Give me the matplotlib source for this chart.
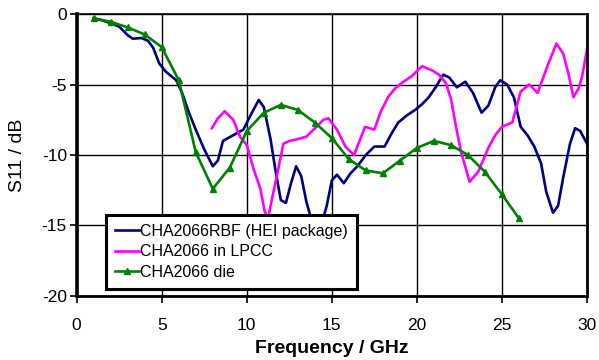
import matplotlib
matplotlib.use("Agg")
import matplotlib.pyplot as plt

plt.rcParams['font.family'] = ['Liberation Sans', 'DejaVu Sans']
plt.rcParams['axes.unicode_minus'] = False

# CHA2066RBF (HEI package)
hei_f = [1.0, 1.5, 2.0, 2.5, 3.0, 3.3, 3.8, 4.2, 4.5, 4.85, 5.25, 5.85, 6.2, 6.6, 7.0, 7.5,
         8.0, 8.3, 8.6, 9.2, 9.8, 10.3, 10.7, 11.0, 11.4, 11.7, 12.0, 12.3, 12.6, 12.9,
         13.2, 13.5, 13.8, 14.1, 14.4, 14.7, 15.0, 15.3, 15.7, 16.1, 16.5, 17.0, 17.5,
         18.1, 18.5, 18.9, 19.4, 19.9, 20.3, 20.7, 21.1, 21.55, 21.9, 22.35, 22.85, 23.3,
         23.8, 24.2, 24.6, 24.9, 25.3, 25.7, 26.1, 26.5, 26.9, 27.3, 27.6, 28.0, 28.3,
         28.6, 29.0, 29.3, 29.6, 30.0]
hei_s11 = [-0.3, -0.45, -0.65, -0.9, -1.5, -1.75, -1.7, -1.9, -2.4, -3.5, -4.1, -4.7, -5.6,
           -7.0, -8.2, -9.6, -10.8, -10.4, -9.0, -8.6, -8.2, -7.0, -6.1, -6.6, -8.9, -11.2,
           -13.2, -13.4, -12.0, -10.8, -11.5, -13.3, -14.6, -15.3, -14.9, -13.6, -11.8,
           -11.4, -12.0, -11.3, -10.8, -10.0, -9.4, -9.4, -8.5, -7.7, -7.2, -6.8, -6.4,
           -5.9, -5.2, -4.3, -4.5, -5.2, -4.8, -5.6, -7.0, -6.5, -5.2, -4.7, -5.0, -5.9,
           -8.0, -8.6, -9.4, -10.6, -12.6, -14.1, -13.6, -11.6, -9.2, -8.1, -8.3, -9.2]

# CHA2066 in LPCC
lpcc_f = [7.95, 8.3, 8.7, 9.2, 9.6, 10.0, 10.4, 10.8, 11.05, 11.25, 11.5, 11.8, 12.15, 12.5,
          12.9, 13.5, 14.1, 14.5, 14.8, 15.3, 15.8, 16.3, 16.5, 16.95, 17.5, 17.85, 18.3,
          18.7, 19.1, 19.7, 20.3, 20.9, 21.3, 21.7, 22.0, 22.3, 22.6, 23.1, 23.6, 24.2,
          24.6, 25.0, 25.6, 26.1, 26.6, 27.1, 27.7, 28.2, 28.6, 28.9, 29.2, 29.5, 29.7, 30.0]
lpcc_s11 = [-8.1, -7.4, -6.9, -7.5, -8.7, -9.3, -11.0, -12.4, -14.0, -14.5, -13.0, -11.3,
            -9.2, -9.0, -8.9, -8.7, -8.0, -7.5, -7.4, -8.2, -9.4, -10.0, -9.4, -8.0, -8.2,
            -7.0, -5.9, -5.3, -4.9, -4.4, -3.7, -4.0, -4.3, -4.9, -6.0, -8.0, -9.8, -11.9,
            -11.2, -9.5, -8.6, -8.0, -7.7, -5.5, -5.0, -5.6, -3.6, -2.1, -2.8, -4.2, -5.9,
            -5.3, -4.5, -2.5]

# CHA2066 die
die_f = list(range(1, 27))
die_s11 = [-0.3, -0.55, -0.95, -1.45, -2.35, -4.7, -9.8, -12.4, -10.9, -8.3, -7.0, -6.45,
           -6.8, -7.7, -8.8, -10.3, -11.1, -11.3, -10.4, -9.5, -9.0, -9.3, -10.0, -11.2,
           -12.8, -14.5]

fig = plt.figure(figsize=(5.99, 3.6), dpi=100)
ax = fig.add_axes([0.128, 0.178, 0.852, 0.783])

ax.plot(hei_f, hei_s11, color='#000080', lw=1.9, label='CHA2066RBF (HEI package)')
ax.plot(lpcc_f, lpcc_s11, color='#FF00FF', lw=1.9, label='CHA2066 in LPCC')
ax.plot(die_f, die_s11, color='#008000', lw=1.9, marker='^', ms=4, label='CHA2066 die')

ax.set_xlim(0, 30)
ax.set_ylim(-20, 0)
ax.set_xticks(range(0, 31, 5))
ax.set_yticks(range(-20, 1, 5))
ax.grid(True, color='black', lw=1.0)
ax.set_axisbelow(True)
ax.tick_params(direction='out', length=5, width=1.2, labelsize=12.5, colors='black')
ax.tick_params(axis='x', pad=11)
ax.tick_params(axis='y', pad=2)
for side, w in [('left', 2.6), ('bottom', 2.0), ('right', 2.0), ('top', 1.2)]:
    ax.spines[side].set_linewidth(w)
    ax.spines[side].set_color('black')

ax.set_xlabel('Frequency / GHz', fontsize=14, fontweight='bold', labelpad=5)
ax.set_ylabel('S11 / dB', fontsize=14, labelpad=11)

leg = ax.legend(loc='lower left', bbox_to_anchor=(0.057, 0.025), fontsize=11.5,
                frameon=True, fancybox=False, framealpha=1, borderaxespad=0,
                handlelength=1.5, handletextpad=0.1, labelspacing=0.35, borderpad=0.55)
leg.get_frame().set_edgecolor('black')
leg.get_frame().set_linewidth(2.2)

fig.savefig('out.png', dpi=100)
